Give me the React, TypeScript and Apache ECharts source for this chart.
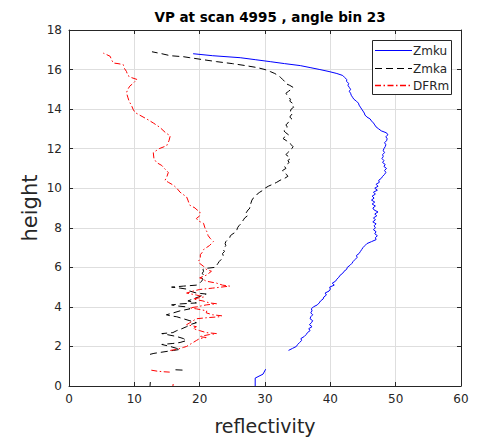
import React, { useEffect, useRef } from "react";
import * as echarts from "echarts";

// [reflectivity, height]
const zmkuLow: number[][] = [[28.5, 0], [28.5, 0.4], [29.7, 0.6], [30.1, 0.85]];
const zmkuMain: number[][] = [
  [33.6, 1.8], [34.2, 1.9], [34.8, 2.0], [35.0, 2.1], [35.3, 2.2], [35.6, 2.3], [35.5, 2.4], [36.0, 2.5],
  [36.3, 2.6], [36.5, 2.7], [36.9, 2.8], [36.7, 2.9], [37.2, 3.0], [36.8, 3.1], [37.1, 3.2], [37.3, 3.3],
  [36.9, 3.4], [37.0, 3.5], [37.3, 3.6], [37.0, 3.7], [37.2, 3.8], [37.1, 3.9], [37.4, 4.0], [38.0, 4.1],
  [38.3, 4.2], [38.5, 4.3], [38.9, 4.4], [39.0, 4.5], [39.4, 4.6], [39.2, 4.7], [39.8, 4.8], [40.0, 4.9],
  [39.9, 5.0], [40.6, 5.1], [40.3, 5.2], [40.8, 5.3], [41.0, 5.4], [41.3, 5.5], [41.5, 5.6], [41.9, 5.7],
  [42.1, 5.8], [42.5, 5.9], [42.6, 6.0], [43.0, 6.1], [43.3, 6.2], [43.5, 6.3], [43.8, 6.4], [44.1, 6.5],
  [44.0, 6.6], [44.4, 6.7], [44.6, 6.8], [44.8, 6.9], [45.0, 7.0], [45.3, 7.1], [45.6, 7.2], [46.3, 7.3],
  [47.0, 7.4], [46.9, 7.5], [47.2, 7.6], [46.8, 7.7], [47.0, 7.8], [46.6, 7.9], [46.9, 8.0], [46.7, 8.1],
  [47.0, 8.2], [46.5, 8.3], [46.9, 8.4], [46.6, 8.5], [47.1, 8.6], [46.8, 8.7], [47.3, 8.8], [46.7, 8.9],
  [46.5, 9.0], [46.9, 9.1], [46.4, 9.2], [46.8, 9.3], [46.3, 9.4], [46.7, 9.5], [46.4, 9.6], [46.9, 9.7],
  [46.6, 9.8], [47.2, 9.9], [46.8, 10.0], [47.3, 10.1], [47.0, 10.2], [47.5, 10.3], [47.4, 10.4], [47.8, 10.5],
  [48.0, 10.6], [48.3, 10.7], [48.5, 10.8], [48.3, 10.9], [48.6, 11.0], [48.2, 11.1], [48.4, 11.2], [48.0, 11.3],
  [48.2, 11.4], [47.9, 11.5], [48.1, 11.6], [48.0, 11.7], [48.3, 11.8], [48.1, 11.9], [48.2, 12.0], [48.4, 12.1],
  [48.5, 12.2], [48.3, 12.3], [48.6, 12.4], [48.7, 12.5], [48.5, 12.6], [48.8, 12.7], [48.6, 12.8], [47.8, 12.9],
  [47.4, 13.0], [47.0, 13.1], [46.8, 13.2], [46.6, 13.3], [46.3, 13.4], [46.1, 13.5], [45.6, 13.6], [45.3, 13.7],
  [45.2, 13.8], [45.0, 13.9], [44.8, 14.0], [44.6, 14.1], [44.4, 14.2], [44.3, 14.3], [44.0, 14.4], [43.6, 14.5],
  [43.4, 14.6], [43.2, 14.7], [43.1, 14.8], [42.9, 14.9], [43.1, 15.0], [42.9, 15.1], [42.7, 15.2], [42.8, 15.3],
  [42.5, 15.4], [42.5, 15.5], [42.2, 15.6], [41.9, 15.7], [41.0, 15.8], [39.8, 15.9], [38.4, 16.0], [36.9, 16.1],
  [35.4, 16.2], [33.0, 16.3], [30.8, 16.4], [28.5, 16.5], [26.2, 16.6], [22.0, 16.7], [19.0, 16.8],
];

const zmkaLowA: number[][] = [[12.4, 0], [12.45, 0.2]];
const zmkaLowB: number[][] = [[16.3, 0.82], [17.6, 0.8]];
const zmkaMain: number[][] = [
  [12.4, 1.6], [13.0, 1.65], [14.0, 1.7], [15.0, 1.75], [16.0, 1.8], [17.0, 1.85], [16.5, 1.9], [15.5, 2.0],
  [14.2, 2.1], [15.9, 2.15], [17.0, 2.2], [18.0, 2.3], [17.5, 2.4], [16.5, 2.5], [15.0, 2.6], [14.2, 2.65],
  [15.9, 2.7], [16.5, 2.8], [17.3, 2.9], [18.0, 3.0], [18.5, 3.1], [19.5, 3.2], [18.5, 3.3], [17.5, 3.4],
  [16.5, 3.5], [15.5, 3.55], [14.9, 3.6], [16.0, 3.7], [17.0, 3.8], [18.5, 3.9], [18.0, 4.0], [16.5, 4.05],
  [15.7, 4.1], [17.0, 4.15], [19.5, 4.2], [18.2, 4.3], [19.0, 4.4], [19.8, 4.5], [20.5, 4.6], [21.0, 4.65],
  [19.5, 4.7], [18.5, 4.8], [18.0, 4.9], [17.0, 4.95], [15.7, 5.0], [17.5, 5.05], [19.5, 5.1], [20.0, 5.2],
  [20.3, 5.3], [20.5, 5.4], [20.2, 5.5], [20.6, 5.6], [20.4, 5.7], [20.6, 5.8], [20.5, 5.9], [21.0, 5.95],
  [22.4, 6.0], [22.6, 6.1], [22.8, 6.2], [23.0, 6.3], [23.3, 6.4], [23.5, 6.5], [23.6, 6.6], [23.5, 6.7],
  [23.8, 6.8], [23.6, 6.9], [23.8, 7.0], [24.0, 7.1], [23.9, 7.2], [24.0, 7.3], [24.3, 7.4], [24.6, 7.5],
  [24.7, 7.6], [25.1, 7.7], [25.6, 7.8], [25.7, 7.9], [25.8, 8.0], [26.0, 8.1], [26.3, 8.2], [26.5, 8.3],
  [26.7, 8.4], [26.9, 8.5], [27.3, 8.6], [27.0, 8.7], [27.2, 8.8], [27.4, 8.9], [27.7, 9.0], [27.6, 9.1],
  [27.8, 9.2], [27.9, 9.3], [28.0, 9.4], [28.2, 9.5], [28.6, 9.6], [28.8, 9.7], [29.2, 9.8], [29.7, 9.9],
  [30.0, 10.0], [30.5, 10.1], [31.2, 10.2], [31.8, 10.3], [32.3, 10.4], [33.0, 10.5], [33.5, 10.6], [33.3, 10.7],
  [32.8, 10.8], [32.7, 10.9], [33.2, 11.0], [33.0, 11.1], [33.3, 11.2], [33.7, 11.3], [33.5, 11.4], [33.9, 11.5],
  [33.6, 11.6], [33.2, 11.7], [33.5, 11.8], [33.7, 11.9], [34.1, 12.0], [34.3, 12.1], [34.0, 12.2], [33.8, 12.3],
  [33.3, 12.4], [32.8, 12.5], [33.0, 12.6], [33.6, 12.7], [33.2, 12.8], [32.9, 12.9], [33.3, 13.0], [33.4, 13.1],
  [33.2, 13.2], [33.5, 13.3], [33.7, 13.4], [34.1, 13.5], [33.8, 13.6], [34.0, 13.7], [34.3, 13.8], [33.9, 13.9],
  [34.0, 14.0], [34.4, 14.1], [34.1, 14.2], [34.2, 14.3], [33.8, 14.4], [33.9, 14.5], [33.6, 14.6], [33.4, 14.7],
  [33.2, 14.8], [33.6, 14.9], [34.0, 15.0], [34.3, 15.1], [33.8, 15.2], [33.1, 15.3], [33.0, 15.4], [32.7, 15.5],
  [32.4, 15.6], [32.0, 15.7], [31.5, 15.8], [30.8, 15.9], [30.0, 16.0], [28.8, 16.1], [27.0, 16.2], [25.0, 16.3],
  [22.6, 16.4], [20.5, 16.5], [18.5, 16.6], [17.5, 16.65], [15.5, 16.7], [14.2, 16.8], [12.7, 16.9],
];

const dfrmLowA: number[][] = [[15.9, 0], [15.95, 0.1]];
const dfrmLowB: number[][] = [[12.6, 0.8], [13.5, 0.75], [14.5, 0.72], [15.5, 0.7]];
const dfrmMain: number[][] = [
  [15.5, 1.8], [16.5, 1.85], [17.0, 1.9], [17.5, 1.95], [18.0, 2.0], [18.5, 2.1], [19.0, 2.2], [19.5, 2.3],
  [20.0, 2.4], [21.0, 2.45], [20.0, 2.5], [21.5, 2.6], [22.6, 2.65], [21.0, 2.7], [20.0, 2.8], [19.0, 2.9],
  [19.5, 3.0], [18.0, 3.1], [18.5, 3.2], [19.0, 3.3], [19.5, 3.4], [21.0, 3.45], [23.0, 3.5], [23.4, 3.55],
  [22.0, 3.6], [21.0, 3.7], [21.1, 3.8], [19.5, 3.9], [18.5, 3.95], [19.5, 4.0], [21.0, 4.1], [22.6, 4.16],
  [21.5, 4.2], [20.5, 4.3], [19.0, 4.4], [20.6, 4.5], [19.5, 4.6], [18.0, 4.7], [19.0, 4.8], [20.0, 4.88],
  [22.0, 4.95], [24.6, 5.05], [23.5, 5.1], [22.6, 5.2], [21.0, 5.3], [20.5, 5.4], [20.0, 5.47], [21.0, 5.6],
  [21.8, 5.8], [21.0, 5.9], [20.6, 6.05], [20.0, 6.2], [19.8, 6.3], [20.1, 6.45], [20.1, 6.64], [20.5, 6.8],
  [20.6, 6.9], [21.5, 7.1], [22.1, 7.3], [21.6, 7.47], [21.3, 7.6], [21.1, 7.8], [20.8, 8.0], [20.6, 8.22],
  [19.8, 8.35], [19.5, 8.47], [20.0, 8.6], [20.05, 8.8], [19.6, 8.9], [19.3, 9.0], [18.5, 9.14], [18.3, 9.3],
  [18.2, 9.4], [18.0, 9.56], [17.4, 9.7], [17.0, 9.8], [16.5, 10.0], [16.0, 10.15], [15.2, 10.3], [14.7, 10.4],
  [15.0, 10.6], [15.2, 10.8], [14.6, 11.0], [14.2, 11.15], [13.4, 11.3], [13.0, 11.5], [12.9, 11.8], [13.8, 12.0],
  [14.95, 12.15], [15.3, 12.4], [15.5, 12.65], [14.8, 12.8], [13.9, 13.08], [12.9, 13.3], [11.9, 13.5], [10.8, 13.7],
  [10.1, 13.83], [9.8, 14.0], [9.6, 14.16], [9.2, 14.4], [9.0, 14.6], [8.8, 14.83], [9.0, 15.0], [9.3, 15.16],
  [9.8, 15.3], [10.4, 15.5], [9.5, 15.6], [9.0, 15.7], [8.8, 15.9], [8.5, 16.05], [8.3, 16.25], [7.5, 16.3],
  [6.8, 16.33], [6.5, 16.5], [6.3, 16.67], [5.8, 16.75], [5.25, 16.83],
];

const seriesNames = ["Zmku", "Zmka", "DFRm"];
const xTicks = { min: 0, max: 60, interval: 10 };
const yTicks = { min: 0, max: 18, interval: 2 };

const FONT = "DejaVu Sans";
const INK = "#262626";
const COLORS = ["#0000ff", "#000000", "#ff0000"];
const DASH_KU: any = "solid";
const DASH_KA = [7, 4];
const DASH_DFR = [6, 2.5, 1.5, 2.5];

export default function App() {
  const ref = useRef<HTMLDivElement>(null);
  useEffect(() => {
    if (!ref.current) return;
    const chart = echarts.init(ref.current, undefined, { renderer: "svg" });
    const dashes: any[] = [DASH_KU, DASH_KA, DASH_DFR];
    const line = (i: number, data: number[][]) => ({
      name: seriesNames[i],
      type: "line",
      data,
      showSymbol: false,
      symbol: "none",
      lineStyle: { color: COLORS[i], width: 1, type: Array.isArray(dashes[i]) ? dashes[i].slice() : dashes[i] },
      itemStyle: { color: COLORS[i] },
      z: 3,
    });

    // legend box drawn as graphic
    const lgX = 372.5, lgY = 40.5, lgW = 79, lgH = 54;
    const rowY = [50.5, 68.5, 85.5];
    const legendEls: any[] = [
      {
        type: "rect",
        shape: { x: lgX, y: lgY, width: lgW, height: lgH },
        style: { fill: "#fff", stroke: INK, lineWidth: 1 },
        z: 10,
      },
    ];
    seriesNames.forEach((n, i) => {
      legendEls.push({
        type: "polyline",
        shape: { points: [[375, rowY[i]], [412, rowY[i]]] },
        style: {
          stroke: COLORS[i],
          fill: null,
          lineWidth: i === 2 ? 1.3 : 1,
          lineDash: Array.isArray(dashes[i]) ? dashes[i].slice() : null,
        },
        z: 11,
      });
      legendEls.push({
        type: "text",
        x: 413,
        y: rowY[i],
        style: {
          text: n,
          fill: INK,
          fontFamily: FONT,
          fontSize: 12,
          verticalAlign: "middle",
          align: "left",
        },
        z: 11,
      });
    });

    chart.setOption({
      animation: false,
      backgroundColor: "#ffffff",
      textStyle: { fontFamily: FONT },
      title: {
        text: "VP at scan 4995 , angle bin 23",
        left: 265,
        textAlign: "center",
        top: 5,
        textStyle: { fontFamily: FONT, fontSize: 13.5, fontWeight: "bold", color: "#000" },
      },
      graphic: legendEls,
      grid: { left: 69, right: 34, top: 30, bottom: 51, containLabel: false },
      xAxis: [
        {
          type: "value",
          ...xTicks,
          name: "reflectivity",
          nameLocation: "middle",
          nameGap: 30,
          nameMoveOverlap: false,
          nameTextStyle: { fontFamily: FONT, fontSize: 19, color: INK },
          axisLine: { show: true, lineStyle: { color: INK, width: 1 } },
          axisTick: { show: true, inside: true, length: 4, lineStyle: { color: INK } },
          axisLabel: { fontFamily: FONT, fontSize: 12, color: INK, margin: 7 },
          splitLine: { show: true, lineStyle: { color: "#dedede", width: 1 } },
        },
        {
          type: "value",
          position: "top",
          ...xTicks,
          axisLine: { show: true, onZero: false, lineStyle: { color: INK, width: 1 } },
          axisTick: { show: true, inside: true, length: 4, lineStyle: { color: INK } },
          axisLabel: { show: false },
          splitLine: { show: false },
        },
      ],
      yAxis: [
        {
          type: "value",
          ...yTicks,
          name: "height",
          nameLocation: "middle",
          nameGap: 29,
          nameMoveOverlap: false,
          nameTextStyle: { fontFamily: FONT, fontSize: 21, color: INK },
          axisLine: { show: true, lineStyle: { color: INK, width: 1 } },
          axisTick: { show: true, inside: true, length: 4, lineStyle: { color: INK } },
          axisLabel: { fontFamily: FONT, fontSize: 12, color: INK, margin: 7 },
          splitLine: { show: true, lineStyle: { color: "#dedede", width: 1 } },
        },
        {
          type: "value",
          position: "right",
          ...yTicks,
          axisLine: { show: true, onZero: false, lineStyle: { color: INK, width: 1 } },
          axisTick: { show: true, inside: true, length: 4, lineStyle: { color: INK } },
          axisLabel: { show: false },
          splitLine: { show: false },
        },
      ],
      series: [
        line(0, zmkuMain),
        line(0, zmkuLow),
        line(1, zmkaMain),
        line(1, zmkaLowA),
        line(1, zmkaLowB),
        line(2, dfrmMain),
        line(2, dfrmLowA),
        line(2, dfrmLowB),
      ],
    });
    return () => chart.dispose();
  }, []);
  return <div ref={ref} style={{ width: 495, height: 440, position: "absolute", left: 0, top: 0 }} />;
}
